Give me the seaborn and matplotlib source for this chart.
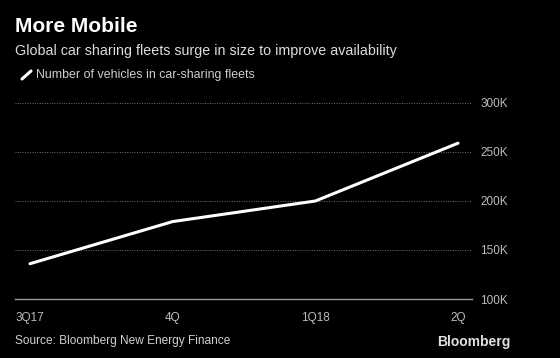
import matplotlib
matplotlib.use("Agg")
import matplotlib.pyplot as plt
import seaborn as sns
import pandas as pd
from matplotlib.lines import Line2D

quarters = ["3Q17", "4Q", "1Q18", "2Q"]
vehicles = [136000, 179000, 200000, 259000]
y_ticks = [100000, 150000, 200000, 250000, 300000]
y_tick_labels = ["100K", "150K", "200K", "250K", "300K"]

sns.set_style("dark")
plt.rcParams['font.family'] = ['Liberation Sans', 'DejaVu Sans']

df = pd.DataFrame({"pos": range(len(quarters)), "vehicles": vehicles})

fig = plt.figure(figsize=(5.6, 3.58), dpi=100, facecolor="black")
ax = fig.add_axes([15/560, 1-299/358, (472-15)/560, (299-103)/358])
ax.set_facecolor("black")

sns.lineplot(data=df, x="pos", y="vehicles", ax=ax, color="white", linewidth=2.2)

ax.set_xlim(-0.105, 3.098)
ax.set_ylim(100000, 300000)
ax.set_xticks(range(len(quarters)))
ax.set_xticklabels(quarters, color="#bdbdbd", fontsize=8.5)
ax.set_yticks(y_ticks)
ax.set_yticklabels(y_tick_labels, color="#bdbdbd", fontsize=8.5)
ax.yaxis.tick_right()
ax.tick_params(axis="y", length=0, pad=6)
ax.tick_params(axis="x", length=5, direction="inout", color="#9a9a9a", width=1, pad=7)
ax.set_xlabel("")
ax.set_ylabel("")
for s in ["top", "left", "right"]:
    ax.spines[s].set_visible(False)
ax.spines["bottom"].set_color("#9a9a9a")
ax.spines["bottom"].set_linewidth(1)
ax.grid(False)
for yt in y_ticks[1:]:
    ax.axhline(yt, color="#707070", linestyle=(0, (1, 1.5)), linewidth=0.7, zorder=0)

fig.text(15/560, 1-26/358, "More Mobile", color="white", fontsize=15, fontweight="bold",
         va="center", ha="left")
fig.text(15/560, 1-51/358, "Global car sharing fleets surge in size to improve availability",
         color="#dcdcdc", fontsize=10.3, va="center", ha="left")
fig.lines.append(Line2D([22/560, 31/560], [1-79/358, 1-71/358], color="white", linewidth=2.2,
                        transform=fig.transFigure))
fig.text(36/560, 1-75/358, "Number of vehicles in car-sharing fleets", color="#cfcfcf",
         fontsize=8.9, va="center", ha="left")
fig.text(15/560, 1-341/358, "Source: Bloomberg New Energy Finance", color="#cfcfcf",
         fontsize=8.6, va="center", ha="left")
fig.text(510/560, 1-342/358, "Bloomberg", color="#e0e0e0", fontsize=10, fontweight="bold",
         va="center", ha="right")

fig.savefig("out.png", dpi=100, facecolor="black")
